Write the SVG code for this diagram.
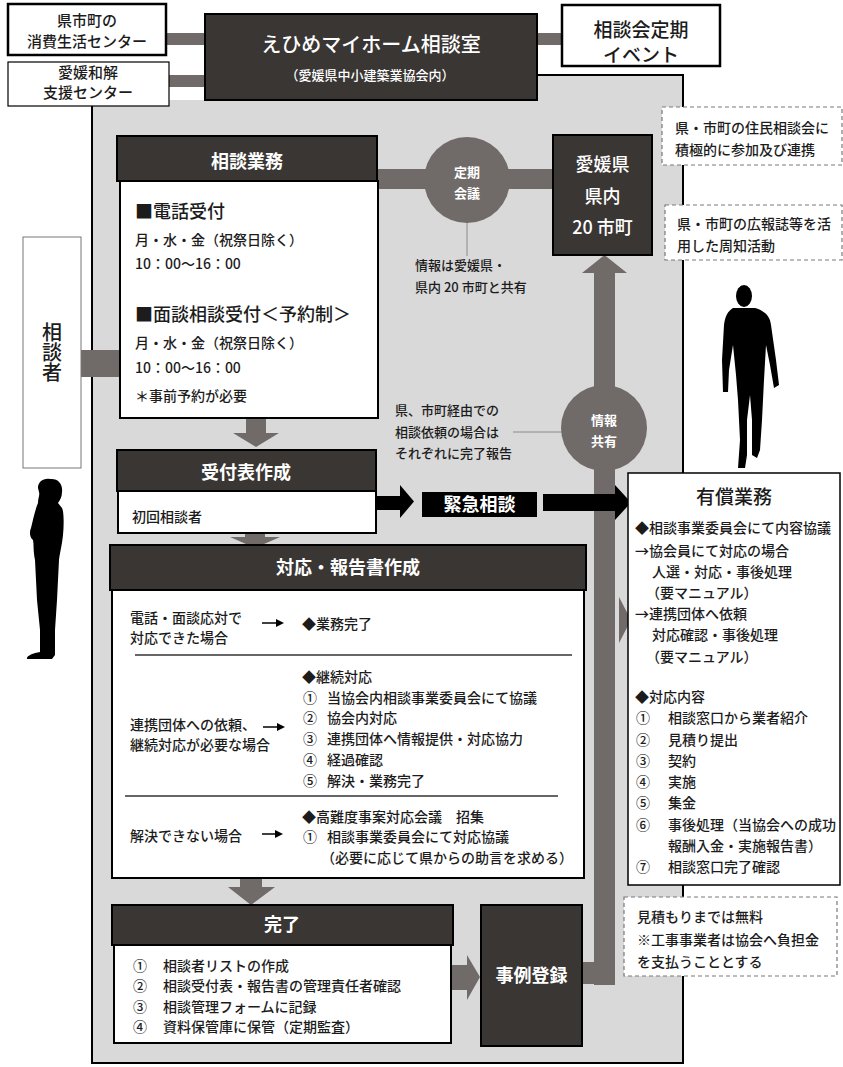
<svg xmlns="http://www.w3.org/2000/svg" width="843" height="1067" viewBox="0 0 843 1067">
  <style>
    text { font-family: "Noto Sans CJK JP", "Noto Sans", sans-serif; fill: #1c1c1c; font-weight: 500; }
    .c { text-anchor: middle; }
    .w { fill: #ffffff; }
    .b { font-weight: bold; }
    .s13 { font-size: 13px; }
    .s14 { font-size: 14px; }
    .s15 { font-size: 15px; }
    .s18 { font-size: 18px; }
    .s19 { font-size: 19px; }
    .s20 { font-size: 20px; }
    .hdr { fill: #3a3634; stroke: #000; stroke-width: 2; }
    .body { fill: #fff; stroke: #000; stroke-width: 2; }
    .plain { fill: #fff; stroke: #000; stroke-width: 2.5; }
    .pipe { fill: #706b69; }
    .dash { fill: #fff; stroke: #7a7a7a; stroke-width: 1.2; stroke-dasharray: 4 3; }
    .thin { stroke: #8a8a8a; stroke-width: 1; fill: none; }
    .sep { stroke: #333; stroke-width: 1.3; }
    .mini { stroke: #000; stroke-width: 1.5; }
  </style>

  <rect x="0" y="0" width="843" height="1067" fill="#fff"/>

  <!-- shared backdrop panel -->
  <g id="panel">
    <path d="M92,100 H205 V75 H683 V1063 H92 Z" fill="#d9d9d9"/>
    <path d="M537,75 H683 V1063 H92 V100" fill="none" stroke="#000" stroke-width="2"/>
  </g>

  <!-- silhouettes -->
  <g id="figure-left" fill="#000">
    <path d="M50,479 C58,478 63,484 62,492 C62,497 60,500 58,503 L62,508 C64,512 64,525 63,535 C62,545 60,552 59,560 L57,600 L55,630 L55,655 L52,659 L27,659 C26,656 33,653 40,652 L40,630 L37,600 L35,560 C33,550 34,545 33,540 C30,538 29,532 31,528 C33,520 35,510 38,503 C38,498 40,495 39,492 L38,488 C38,482 43,478 50,479 Z"/>
  </g>
  <g id="figure-right" fill="#000">
    <ellipse cx="744" cy="296" rx="8" ry="11"/>
    <path d="M733,308 L755,308 C765,311 770,316 771,325 L776,360 L779,385 L774,388 L770,365 L766,345 L764,380 L762,420 L760,450 L757,458 L752,455 L752,420 L750,395 L747,420 L747,455 L745,468 L738,468 L740,440 L738,400 L736,375 L733,345 L729,370 L728,392 L723,392 L722,360 L724,325 C725,316 728,311 733,308 Z"/>
  </g>

  <!-- connectors -->
  <g id="connectors">
    <rect class="pipe" x="166" y="33" width="40" height="12"/>
    <rect class="pipe" x="169" y="75" width="37" height="12"/>
    <rect class="pipe" x="536" y="33" width="27" height="12"/>
    <rect class="pipe" x="81" y="350" width="40" height="27"/>
    <rect class="pipe" x="376" y="169" width="178" height="20"/>
    <line class="thin" x1="467" y1="222" x2="467" y2="256"/>
    <line class="thin" x1="513" y1="432" x2="562" y2="432"/>
    <!-- shared information trunk up to the prefecture box -->
    <polygon class="pipe" points="582,273 604.5,255 627,273 615,273 615,985 594,985 594,273"/>
    <rect class="pipe" x="582" y="962" width="24" height="22"/>
    <polygon class="pipe" points="619,597 631,620 619,643"/>
    <!-- flow arrows -->
    <polygon class="pipe" points="246,418 266,418 266,433 279,433 256,447 233,433 246,433"/>
    <polygon class="pipe" points="245,533 265,533 265,537 280,537 255,548 230,537 245,537"/>
    <polygon class="pipe" points="240,878 262,878 262,887 275,887 251,905 228,887 240,887"/>
    <polygon class="pipe" points="451,965 467,965 467,955 480,977 467,1000 467,990 451,990"/>
    <polygon fill="#000" points="376,496 400,496 400,485 414,501.5 400,518 400,510 376,510"/>
    <polygon fill="#000" points="543,494 615,494 615,485 631,502.5 615,520 615,511 543,511"/>
  </g>

  <g id="consumer-center">
    <rect class="plain" x="8" y="4" width="158" height="51"/>
    <text class="c s15" x="87" y="26">県市町の</text>
    <text class="c s15" x="87" y="47">消費生活センター</text>
  </g>

  <g id="mediation-center">
    <rect x="8" y="62" width="161" height="44" fill="#fff" stroke="#000" stroke-width="1.2"/>
    <text class="c s15" x="88" y="78">愛媛和解</text>
    <text class="c s15" x="88" y="98">支援センター</text>
  </g>

  <g id="main-office">
    <rect class="hdr" x="205" y="14" width="332" height="86"/>
    <text class="c w s20" x="371" y="52">えひめマイホーム相談室</text>
    <text class="c w s13" x="370" y="80">（愛媛県中小建築業協会内）</text>
  </g>

  <g id="regular-event">
    <rect class="plain" x="562" y="5" width="158" height="61"/>
    <text class="c s19" x="641" y="37">相談会定期</text>
    <text class="c s19" x="641" y="62">イベント</text>
  </g>

  <g id="note-meetings">
    <rect class="dash" x="662" y="107" width="180" height="58"/>
    <text class="s14" x="675" y="133">県・市町の住民相談会に</text>
    <text class="s14" x="675" y="155">積極的に参加及び連携</text>
  </g>

  <g id="note-publicity">
    <rect class="dash" x="665" y="205" width="177" height="55"/>
    <text class="s14" x="677" y="229">県・市町の広報誌等を活</text>
    <text class="s14" x="677" y="251">用した周知活動</text>
  </g>

  <g id="consultant">
    <rect x="23" y="237" width="58" height="231" fill="#fff" stroke="#777" stroke-width="1"/>
    <text class="s20" x="52" y="322" writing-mode="vertical-rl">相談者</text>
  </g>

  <g id="consultation">
    <rect class="body" x="120" y="181" width="258" height="237"/>
    <rect class="hdr" x="117" y="136" width="260" height="45"/>
    <text class="c w b s18" x="247" y="168">相談業務</text>
    <text class="s18" x="135" y="218">■電話受付</text>
    <text class="s14" x="135" y="245">月・水・金（祝祭日除く）</text>
    <text class="s14" x="135" y="269">10：00～16：00</text>
    <text class="s18" x="135" y="321">■面談相談受付＜予約制＞</text>
    <text class="s14" x="135" y="348">月・水・金（祝祭日除く）</text>
    <text class="s14" x="135" y="373">10：00～16：00</text>
    <text class="s14" x="135" y="401">＊事前予約が必要</text>
  </g>

  <g id="regular-meeting">
    <circle class="pipe" cx="467" cy="180" r="43"/>
    <text class="c w b s13" x="467" y="177">定期</text>
    <text class="c w b s13" x="467" y="198">会議</text>
  </g>

  <g id="info-note">
    <text class="s13" x="415" y="270">情報は愛媛県・</text>
    <text class="s13" x="415" y="292">県内 20 市町と共有</text>
  </g>

  <g id="prefecture">
    <rect class="hdr" x="553" y="135" width="99" height="120"/>
    <text class="c w s18" x="602.5" y="171">愛媛県</text>
    <text class="c w s18" x="602.5" y="203">県内</text>
    <text class="c w s18" x="602.5" y="234">20 市町</text>
  </g>

  <g id="info-share">
    <circle class="pipe" cx="604" cy="428" r="43"/>
    <text class="c w b s13" x="604" y="425">情報</text>
    <text class="c w b s13" x="604" y="446">共有</text>
  </g>

  <g id="report-note">
    <text class="s13" x="395" y="415">県、市町経由での</text>
    <text class="s13" x="395" y="437">相談依頼の場合は</text>
    <text class="s13" x="395" y="458">それぞれに完了報告</text>
  </g>

  <g id="intake-sheet">
    <rect class="body" x="118" y="491" width="258" height="42"/>
    <rect class="hdr" x="117" y="450" width="259" height="41"/>
    <text class="c w b s18" x="246" y="479">受付表作成</text>
    <text class="s14" x="132" y="522">初回相談者</text>
  </g>

  <g id="urgent">
    <rect x="422" y="492" width="115" height="25" fill="#000"/>
    <text class="c w b s18" x="479.5" y="511">緊急相談</text>
  </g>

  <g id="paid-service">
    <rect x="628" y="473" width="212" height="412" fill="#fff" stroke="#000" stroke-width="1.5"/>
    <text class="c s19" x="734" y="504">有償業務</text>
    <text class="s14" x="635" y="533">◆相談事業委員会にて内容協議</text>
    <text class="s14" x="635" y="556">→協会員にて対応の場合</text>
    <text class="s14" x="652" y="577">人選・対応・事後処理</text>
    <text class="s14" x="646" y="598">（要マニュアル）</text>
    <text class="s14" x="635" y="619">→連携団体へ依頼</text>
    <text class="s14" x="652" y="640">対応確認・事後処理</text>
    <text class="s14" x="646" y="662">（要マニュアル）</text>
    <text class="s14" x="635" y="702">◆対応内容</text>
    <text class="s14" x="636" y="723">①</text><text class="s14" x="668" y="723">相談窓口から業者紹介</text>
    <text class="s14" x="636" y="745">②</text><text class="s14" x="668" y="745">見積り提出</text>
    <text class="s14" x="636" y="766">③</text><text class="s14" x="668" y="766">契約</text>
    <text class="s14" x="636" y="787">④</text><text class="s14" x="668" y="787">実施</text>
    <text class="s14" x="636" y="808">⑤</text><text class="s14" x="668" y="808">集金</text>
    <text class="s14" x="636" y="830">⑥</text><text class="s14" x="668" y="830">事後処理（当協会への成功</text>
    <text class="s14" x="668" y="851">報酬入金・実施報告書）</text>
    <text class="s14" x="636" y="872">⑦</text><text class="s14" x="668" y="872">相談窓口完了確認</text>
  </g>

  <g id="response-report">
    <rect class="body" x="112" y="590" width="472" height="288"/>
    <rect class="hdr" x="110" y="545" width="476" height="45"/>
    <text class="c w b s18" x="348" y="574">対応・報告書作成</text>

    <text class="s14" x="130" y="623">電話・面談応対で</text>
    <text class="s14" x="130" y="643">対応できた場合</text>
    <line class="mini" x1="262" y1="623" x2="277" y2="623"/>
    <polygon points="276,619 284,623 276,627"/>
    <text class="s14" x="302" y="629">◆業務完了</text>
    <line class="sep" x1="135" y1="655" x2="572" y2="655"/>

    <text class="s14" x="302" y="682">◆継続対応</text>
    <text class="s14" x="303" y="703">①</text><text class="s14" x="327" y="703">当協会内相談事業委員会にて協議</text>
    <text class="s14" x="303" y="723">②</text><text class="s14" x="327" y="723">協会内対応</text>
    <text class="s14" x="303" y="744">③</text><text class="s14" x="327" y="744">連携団体へ情報提供・対応協力</text>
    <text class="s14" x="303" y="765">④</text><text class="s14" x="327" y="765">経過確認</text>
    <text class="s14" x="303" y="786">⑤</text><text class="s14" x="327" y="786">解決・業務完了</text>
    <text class="s14" x="130" y="730">連携団体への依頼、</text>
    <text class="s14" x="130" y="750">継続対応が必要な場合</text>
    <line class="mini" x1="263" y1="727" x2="278" y2="727"/>
    <polygon points="277,723 285,727 277,731"/>
    <line class="sep" x1="125" y1="796" x2="558" y2="796"/>

    <text class="s14" x="302" y="822">◆高難度事案対応会議　招集</text>
    <text class="s14" x="303" y="842">①</text><text class="s14" x="327" y="842">相談事業委員会にて対応協議</text>
    <text class="s14" x="321" y="863">（必要に応じて県からの助言を求める）</text>
    <text class="s14" x="130" y="841">解決できない場合</text>
    <line class="mini" x1="262" y1="834" x2="276" y2="834"/>
    <polygon points="275,830 283,834 275,838"/>
  </g>

  <g id="completion">
    <rect class="body" x="114" y="945" width="337" height="98"/>
    <rect class="hdr" x="112" y="905" width="341" height="40"/>
    <text class="c w b s18" x="282" y="931">完了</text>
    <text class="s14" x="133" y="971">①</text><text class="s14" x="163" y="971">相談者リストの作成</text>
    <text class="s14" x="133" y="991">②</text><text class="s14" x="163" y="991">相談受付表・報告書の管理責任者確認</text>
    <text class="s14" x="133" y="1012">③</text><text class="s14" x="163" y="1012">相談管理フォームに記録</text>
    <text class="s14" x="133" y="1032">④</text><text class="s14" x="163" y="1032">資料保管庫に保管（定期監査）</text>
  </g>

  <g id="case-registry">
    <rect class="hdr" x="481" y="905" width="101" height="141"/>
    <text class="c w b s18" x="531.5" y="982">事例登録</text>
  </g>

  <g id="note-fee">
    <rect class="dash" x="624" y="897" width="213" height="79"/>
    <text class="s14" x="637" y="922">見積もりまでは無料</text>
    <text class="s14" x="637" y="945">※工事事業者は協会へ負担金</text>
    <text class="s14" x="637" y="967">を支払うこととする</text>
  </g>
</svg>
